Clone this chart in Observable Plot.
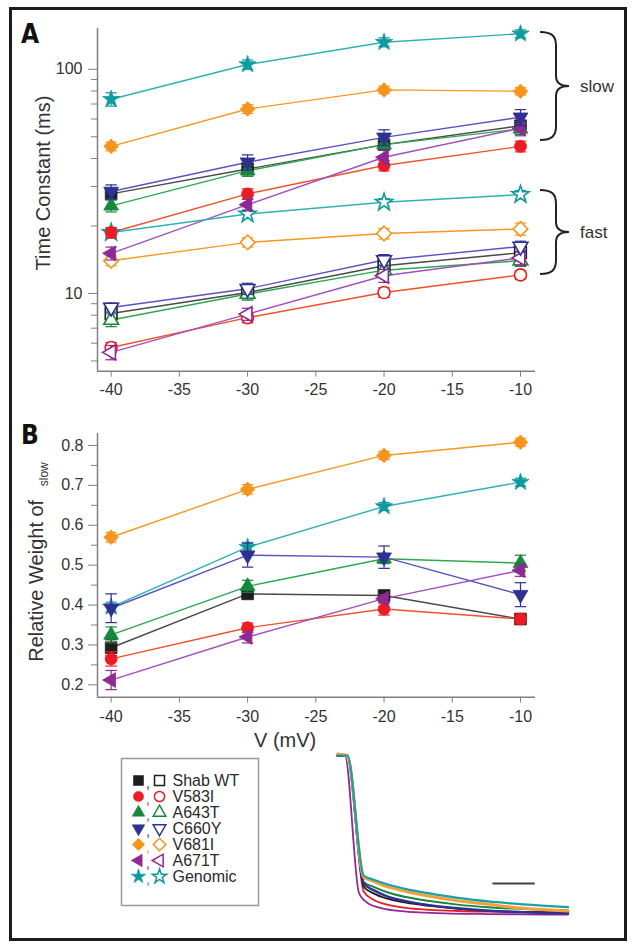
<!DOCTYPE html>
<html><head><meta charset="utf-8">
<script src="https://cdn.jsdelivr.net/npm/d3@7"></script>
<script src="https://cdn.jsdelivr.net/npm/@observablehq/plot@0.6"></script>
<style>
body{margin:0;background:#fff;}
#fig{position:relative;width:635px;height:948px;background:#fff;font-family:"Liberation Sans",Arial,sans-serif;color:#333;overflow:hidden}
#frame{position:absolute;left:9px;top:7px;width:618px;height:934px;box-sizing:border-box;border:3px solid #1c1c1c;}
.rot{position:absolute;white-space:nowrap;transform:translate(-50%,-50%) rotate(-90deg);font-size:20px;line-height:20px;color:#333}
.letter{position:absolute;font-family:"Liberation Sans Narrow","DejaVu Sans Condensed",sans-serif;font-weight:bold;font-size:26px;color:#111;line-height:1}
.note{position:absolute;font-size:17px;line-height:17px;color:#333;transform:translateY(-50%)}
svg{overflow:visible}
</style></head><body><div id="fig"><div id="frame"></div></div>
<script>
// ---------------- data ----------------
const names = ["Shab WT","V583I","A643T","C660Y","V681I","A671T","Genomic"];
const voltages = [-40,-30,-20,-10];
const xTicks = [-40,-35,-30,-25,-20,-15,-10];
const yTicksA = [10,100];
const yMinorA = [5,6,7,8,9,20,30,40,50,60,70,80,90];
const yTicksB = [0.2,0.3,0.4,0.5,0.6,0.7,0.8];
const yMinorB = [0.25,0.35,0.45,0.55,0.65,0.75];

// tau slow (ms), rows follow names
const tauSlow = [
  [27.8, 35.9, 46.1, 56.0],
  [18.7, 27.8, 37.2, 45.3],
  [24.6, 35.3, 46.1, 54.2],
  [28.5, 38.5, 49.7, 61.1],
  [45.3, 66.5, 80.9, 79.8],
  [15.1, 24.9, 40.5, 54.5],
  [73.5, 105, 132, 144]
];
const tauSlowErr = [
  [1.5, 2, 2.5, 3],
  [1, 1.5, 2, 2.5],
  [1.5, 2, 2.5, 3],
  [2, 3, 4, 5],
  [2, 3, 3, 3],
  [1, 1.5, 3, 4],
  [5, 5, 6, 6]
];
// tau fast (ms)
const tauFast = [
  [8.14, 10.1, 13.3, 15.2],
  [5.74, 7.8, 10.1, 12.1],
  [7.61, 9.94, 12.7, 14.0],
  [8.66, 10.5, 14.1, 16.2],
  [14.0, 16.9, 18.5, 19.4],
  [5.46, 8.09, 12.0, 14.4],
  [18.7, 22.6, 25.5, 27.6]
];
const tauFastErr = [
  [0.4, 0.5, 0.6, 0.7],
  [0.3, 0.4, 0.5, 0.5],
  [0.5, 0.6, 0.7, 0.8],
  [0.4, 0.6, 0.8, 0.9],
  [0.7, 0.8, 1.0, 1.2],
  [0.4, 0.5, 0.8, 1.0],
  [0.8, 1.0, 1.0, 1.2]
];
// relative weight of tau slow
const weightSlow = [
  [0.293, 0.428, 0.424, 0.365],
  [0.265, 0.343, 0.39, 0.365],
  [0.325, 0.447, 0.516, 0.505],
  [0.392, 0.525, 0.52, 0.426],
  [0.57, 0.69, 0.775, 0.808],
  [0.212, 0.32, 0.416, 0.487],
  [0.395, 0.545, 0.647, 0.708]
];
const weightErr = [
  [0.02, 0.01, 0.01, 0.012],
  [0.018, 0.012, 0.015, 0.012],
  [0.02, 0.015, 0.012, 0.02],
  [0.036, 0.03, 0.028, 0.03],
  [0.012, 0.012, 0.01, 0.01],
  [0.024, 0.015, 0.01, 0.015],
  [0.012, 0.012, 0.01, 0.01]
];
const markerColors = ["#1e1e1e","#ed1c24","#16873c","#2e3192","#f7941d","#8e2a91","#0f9a9e"];
const lineColors   = ["#4a4a4a","#f0502a","#2ea84c","#5a52c6","#f7981f","#a24fc0","#2eb0b8"];

// inset current traces (time in arbitrary units, normalised current)
const traceTime  = [1, 5, 12, 16, 22, 30, 40, 52, 65, 80, 99];
const traceTimeA671T = [0.5, 4, 10, 14, 20, 28, 38, 50, 65, 80, 99];
const traceShab   = [1, 1, 0.18, 0.14, 0.105, 0.08, 0.06, 0.042, 0.03, 0.022, 0.016];
const traceV583I  = [1, 1, 0.15, 0.1, 0.068, 0.047, 0.035, 0.028, 0.024, 0.021, 0.02];
const traceA643T  = [1, 1, 0.21, 0.18, 0.145, 0.115, 0.09, 0.068, 0.052, 0.04, 0.032];
const traceC660Y  = [1, 1, 0.2, 0.16, 0.12, 0.09, 0.065, 0.045, 0.03, 0.02, 0.014];
const traceV681I  = [1.01, 1, 0.24, 0.215, 0.18, 0.15, 0.12, 0.092, 0.07, 0.045, 0.028];
const traceA671T  = [1, 1, 0.14, 0.075, 0.045, 0.027, 0.018, 0.012, 0.009, 0.007, 0.006];
const traceGenomic= [1, 1, 0.25, 0.225, 0.195, 0.165, 0.138, 0.11, 0.088, 0.07, 0.052];
const scaleBarTime = [67, 85];
const scaleBarLevel = 0.2;

// ---------------- symbols ----------------
const sqrt3 = Math.sqrt(3);
const triDown = {draw(ctx, size){const y = -Math.sqrt(size/(sqrt3*3)); ctx.moveTo(0,-2*y); ctx.lineTo(sqrt3*y, y); ctx.lineTo(-sqrt3*y, y); ctx.closePath();}};
const triLeft = {draw(ctx, size){const y = -Math.sqrt(size/(sqrt3*3)); ctx.moveTo(2*y,0); ctx.lineTo(-y, sqrt3*y); ctx.lineTo(-y,-sqrt3*y); ctx.closePath();}};
const symbols = ["square","circle","triangle",triDown,"diamond2",triLeft,"star"];
const radii = [6.6, 6, 5.5, 5.5, 6.6, 5.5, 5.4];

// ---------------- tables ----------------
const rows = names.map((n,i) => voltages.map((v,j) => ({
  name:n, v,
  slow:tauSlow[i][j], slowErr:tauSlowErr[i][j],
  fast:tauFast[i][j], fastErr:tauFastErr[i][j],
  w:weightSlow[i][j], wErr:weightErr[i][j]
})));

const fig = document.getElementById("fig");
function place(el, left, top){ el.style.position="absolute"; el.style.left=left+"px"; el.style.top=top+"px"; fig.appendChild(el); return el; }
const baseStyle = {fontFamily:"Liberation Sans, Arial, sans-serif", fontSize:"16px", color:"#333", background:"transparent", overflow:"visible"};
const xDomain = [-41, -8.9];
const capHalf = 0.42;

function seriesMarks(i, key, errKey, hollow){
  const d = rows[i];
  const c = markerColors[i];
  return [
    Plot.ruleX(d, {x:"v", y1:r=>r[key]-r[errKey], y2:r=>r[key]+r[errKey], stroke:c, strokeWidth:1.2}),
    Plot.link(d, {x1:r=>r.v-capHalf, x2:r=>r.v+capHalf, y1:r=>r[key]+r[errKey], y2:r=>r[key]+r[errKey], stroke:c, strokeWidth:1.2}),
    Plot.link(d, {x1:r=>r.v-capHalf, x2:r=>r.v+capHalf, y1:r=>r[key]-r[errKey], y2:r=>r[key]-r[errKey], stroke:c, strokeWidth:1.2}),
    Plot.dot(d, {x:"v", y:key, symbol:symbols[i], r:radii[i], fill: hollow ? "white" : c, stroke:c, strokeWidth: hollow ? 1.6 : 0.8})
  ];
}
function seriesLine(i, key){
  return Plot.line(rows[i], {x:"v", y:key, stroke:lineColors[i], strokeWidth:1.4});
}

// ---------------- panel A ----------------
const yDomainA = [4.5, 152];
const marksA = [
  Plot.axisX({ticks:xTicks, tickSize:6, tickPadding:6, tickFormat:d=>String(d), stroke:"#808080", fill:"#333", label:null}),
  Plot.axisY({ticks:yTicksA, tickSize:9, tickPadding:6, tickFormat:d=>String(d), stroke:"#808080", fill:"#333", label:null}),
  Plot.axisY({ticks:yMinorA, tickSize:6, tickFormat:()=>"", stroke:"#808080", label:null}),
  Plot.ruleX([xDomain[0]], {stroke:"#808080", strokeWidth:1.5}),
  Plot.ruleY([yDomainA[0]], {stroke:"#808080", strokeWidth:1.5})
];
names.forEach((n,i)=>{ marksA.push(seriesLine(i,"slow"), seriesLine(i,"fast")); });
const orderA = [0,1,2,4,5,6,3];
orderA.forEach(i=>{ marksA.push(...seriesMarks(i,"fast","fastErr",true)); });
orderA.forEach(i=>{ marksA.push(...seriesMarks(i,"slow","slowErr",false)); });
const plotA = Plot.plot({
  width:635, height:400, marginLeft:97, marginRight:100, marginTop:28, marginBottom:29.3,
  x:{domain:xDomain}, y:{type:"log", domain:yDomainA},
  style:baseStyle, marks:marksA
});
place(plotA, 0, 0);

// ---------------- panel B ----------------
const yDomainB = [0.169, 0.83];
const marksB = [
  Plot.axisX({ticks:xTicks, tickSize:6, tickPadding:7, tickFormat:d=>String(d), stroke:"#808080", fill:"#333", label:null}),
  Plot.axisY({ticks:yTicksB, tickSize:9, tickPadding:5, tickFormat:d=>d.toFixed(1), stroke:"#808080", fill:"#333", label:null}),
  Plot.axisY({ticks:yMinorB, tickSize:6, tickFormat:()=>"", stroke:"#808080", label:null}),
  Plot.ruleX([xDomain[0]], {stroke:"#808080", strokeWidth:1.5}),
  Plot.ruleY([yDomainB[0]], {stroke:"#808080", strokeWidth:1.5})
];
names.forEach((n,i)=>{ marksB.push(seriesLine(i,"w")); });
[6,4,0,1,2,5,3].forEach(i=>{ marksB.push(...seriesMarks(i,"w","wErr",false)); });
const plotB = Plot.plot({
  width:635, height:345, marginLeft:97, marginRight:100, marginTop:33, marginBottom:48.3,
  x:{domain:xDomain}, y:{domain:yDomainB},
  style:baseStyle, marks:marksB
});
place(plotB, 0, 400);

// ---------------- legend ----------------
const legRows = names.map((n,i)=>({name:n, i}));
const legMarks = [Plot.frame({stroke:"#9a9a9a", strokeWidth:1.5})];
legRows.forEach(r=>{
  const c = markerColors[r.i];
  legMarks.push(
    Plot.dot([r], {x:()=>17, y:"name", symbol:symbols[r.i], r:radii[r.i]*0.85, fill:c, stroke:c, strokeWidth:0.6}),
    Plot.text([r], {x:()=>26.5, y:"name", text:()=>",", fill:c, fontSize:14, dy:3}),
    Plot.dot([r], {x:()=>38, y:"name", symbol:symbols[r.i], r:radii[r.i]*0.85, fill:"white", stroke:c, strokeWidth:1.5})
  );
});
legMarks.push(Plot.text(legRows, {x:()=>51, y:"name", text:"name", textAnchor:"start", fill:"#2a2a2a", fontSize:16}));
const legend = Plot.plot({
  width:137, height:147, margin:0,
  x:{domain:[0,137], range:[0,137]},
  y:{type:"point", domain:names, range:[13.7,127.3]},
  axis:null, style:{...baseStyle, fontSize:"16px"}, marks:legMarks
});
place(legend, 121, 758);

// ---------------- inset traces ----------------
function trace(t, I){ return t.map((tt,k)=>({t:tt, I:I[k]})); }
const traceDefs = [
  [traceTimeA671T, traceA671T, markerColors[5], 1.8],
  [traceTime, traceV583I, markerColors[1], 1.8],
  [traceTime, traceShab, markerColors[0], 1.8],
  [traceTime, traceA643T, markerColors[2], 2],
  [traceTime, traceC660Y, markerColors[3], 2.4],
  [traceTime, traceV681I, "#f7a03a", 3],
  [traceTime, traceGenomic, "#17a2aa", 2.2]
];
const insetMarks = traceDefs.map(([t,I,c,w])=>Plot.line(trace(t,I), {x:"t", y:"I", stroke:c, strokeWidth:w, curve:"monotone-x"}));
insetMarks.push(Plot.ruleY([scaleBarLevel], {x1:scaleBarTime[0], x2:scaleBarTime[1], stroke:"#444", strokeWidth:2}));
const inset = Plot.plot({
  width:270, height:190, marginLeft:15, marginRight:20, marginTop:15, marginBottom:15,
  x:{domain:[0,100]}, y:{domain:[0,1]}, axis:null, style:baseStyle, marks:insetMarks
});
place(inset, 320, 740);

// ---------------- annotations ----------------
function addDiv(cls, html, left, top){ const d=document.createElement("div"); d.className=cls; d.innerHTML=html; d.style.left=left+"px"; d.style.top=top+"px"; fig.appendChild(d); return d; }
addDiv("letter","A",21,21);
addDiv("letter","B",21,422);
addDiv("rot","Time Constant (ms)",43,183);
addDiv("rot",'Relative Weight of <span style="font-size:12px;position:relative;top:5px;margin-left:8px">slow</span>',37,562);
addDiv("note","slow",580,86);
addDiv("note","fast",580,232);
const vl = addDiv("note","V (mV)",254,740); vl.style.fontSize="20px";

const ns="http://www.w3.org/2000/svg";
const br = document.createElementNS(ns,"svg");
br.setAttribute("width","635"); br.setAttribute("height","400");
br.style.position="absolute"; br.style.left="0px"; br.style.top="0px";
[[32,86,140],[190,232,274]].forEach(([a,m,b])=>{
  const p=document.createElementNS(ns,"path");
  p.setAttribute("d",`M540,${a} C552,${a} 556,${a+4} 556,${a+14} L556,${m-10} C556,${m-3} 560,${m} 569,${m} C560,${m} 556,${m+3} 556,${m+10} L556,${b-14} C556,${b-4} 552,${b} 540,${b}`);
  p.setAttribute("fill","none"); p.setAttribute("stroke","#222"); p.setAttribute("stroke-width","2");
  br.appendChild(p);
});
fig.appendChild(br);
</script></body></html>
